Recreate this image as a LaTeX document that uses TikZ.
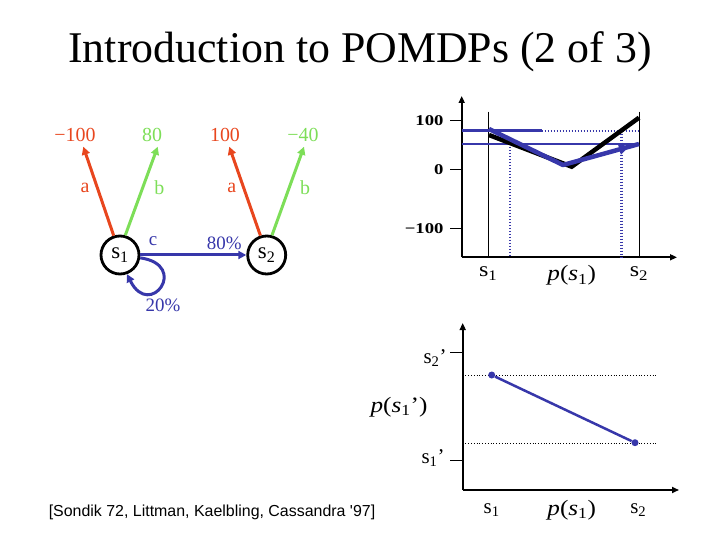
\documentclass[tikz,border=0pt]{standalone}
\usepackage{fontspec}
\setmainfont{Liberation Serif}
\newfontfamily\citefont{Liberation Sans}
\usetikzlibrary{arrows.meta}
\definecolor{actred}{RGB}{232,70,30}
\definecolor{actgreen}{RGB}{125,222,88}
\definecolor{actblue}{RGB}{55,55,170}

\begin{document}
\begin{tikzpicture}[x=1bp,y=-1bp,
  state/.style={draw, circle, line width=2.8bp, minimum size=38bp, inner sep=0pt, font=\fontsize{23}{25}\selectfont},
  act/.style={line width=3bp, -{Triangle[length=8bp,width=8bp]}},
  lbl/.style={font=\fontsize{20}{22}\selectfont},
  ax/.style={line width=1.6bp, -{Triangle[length=7bp,width=6bp]}},
  tickmark/.style={line width=1bp},
  chartnum/.style={font=\fontsize{15}{17}\selectfont\bfseries, anchor=east},
  axlbl/.style={font=\fontsize{21}{23}\selectfont, anchor=base},
  dotmark/.style={circle, fill=actblue, inner sep=0pt, minimum size=7bp}]
  \useasboundingbox (0,0) rectangle (720,540);

  \node[anchor=base, font=\fontsize{44}{48}\selectfont] (title) at (360,63) {Introduction to POMDPs (2 of 3)};

  % states and actions
  \node[state] (s1) at (120,255) {s\textsubscript{1}};
  \node[state] (s2) at (266.7,255) {s\textsubscript{2}};

  \node[lbl, text=actred] (r1a) at (75,135) {−100};
  \node[lbl, text=actgreen] (r1b) at (152,135) {80};
  \node[lbl, text=actred] (r2a) at (225,135) {100};
  \node[lbl, text=actgreen] (r2b) at (303,135) {−40};

  \coordinate (t1a) at (83.3,146.7);
  \coordinate (t1b) at (157.7,146.7);
  \coordinate (t2a) at (229.3,146.7);
  \coordinate (t2b) at (304,146.7);

  \draw[act, actred] (s1.108) -- (t1a);
  \draw[act, actgreen] (s1.75) -- (t1b);
  \draw[act, actred] (s2.108) -- (t2a);
  \draw[act, actgreen] (s2.75) -- (t2b);

  \node[lbl, text=actred] (a1) at (85,188) {a};
  \node[lbl, text=actgreen] (b1) at (159.3,188) {b};
  \node[lbl, text=actred] (a2) at (231.7,188) {a};
  \node[lbl, text=actgreen] (b2) at (305,188) {b};

  \draw[act, actblue] (s1) -- (s2);
  \draw[act, actblue] (s1.-8) .. controls (190,265) and (150,320) .. (s1.-70);
  \node[lbl, text=actblue, font=\fontsize{19}{21}\selectfont] (c) at (153,241) {c};
  \node[lbl, text=actblue, font=\fontsize{19}{21}\selectfont] (p80) at (224.3,243) {80\%};
  \node[lbl, text=actblue, font=\fontsize{19}{21}\selectfont] (p20) at (163,305) {20\%};

  % value function plot
  \coordinate (o1) at (461.7,257.3);
  \draw[ax] (o1) -- (461.7,96);
  \draw[ax] (o1) -- (677,257.3);
  \foreach \yy/\txt [count=\i] in {120.7/100, 169.3/0, 228.3/−100} {
    \draw[tickmark] (450,\yy) -- (461.7,\yy);
    \node[chartnum] (vlab\i) at (447,\yy) {\scalebox{1.25}[1]{\txt}};
  }
  \draw[line width=0.9bp] (488.3,111.7) -- (488.3,257.3);
  \draw[line width=0.9bp] (639,111.7) -- (639,257.3);

  \draw[actblue, line width=2.5bp] (461.7,130.7) -- (541.7,130.7);
  \draw[actblue, line width=1.8bp, dash pattern=on 1.5bp off 1.5bp] (541.7,130.7) -- (639,130.7);
  \draw[actblue, line width=2.5bp] (461.7,144) -- (639,144);
  \draw[actblue, line width=2.6bp, dash pattern=on 1.5bp off 1.5bp] (510,144) -- (510,257.3);
  \draw[actblue, line width=2.6bp, dash pattern=on 1.5bp off 1.5bp] (621.7,130.7) -- (621.7,257.3);

  \draw[line width=4.5bp] (489,135) -- (571.7,166.7) -- (639,117.7);
  \draw[actblue, line width=4.5bp, line join=round] (489,129) -- (563,165) -- (639,144);
  \draw[actblue, line width=1bp, -{Triangle[length=10bp,width=11bp]}] (600,154.7) -- (629,146.5);

  \node[axlbl] (xs1) at (488.3,277) {\scalebox{1.15}[1]{s\textsubscript{1}}};
  \node[axlbl, font=\fontsize{22}{24}\selectfont] (xp1) at (571.7,281) {\scalebox{1.15}[1]{\textit{p}(\textit{s}\textsubscript{1})}};
  \node[axlbl] (xs2) at (639,277) {\scalebox{1.15}[1]{s\textsubscript{2}}};

  % belief transition plot
  \coordinate (o2) at (462.7,490);
  \draw[ax] (o2) -- (462.7,323);
  \draw[ax] (o2) -- (679,490);
  \draw[tickmark] (450,352.7) -- (462.7,352.7);
  \draw[tickmark] (450,460.7) -- (462.7,460.7);
  \node[axlbl, anchor=base east] (ys2) at (450,363) {s\textsubscript{2}’};
  \node[axlbl, anchor=base east] (ys1) at (448,463) {s\textsubscript{1}’};
  \node[axlbl, font=\fontsize{22}{24}\selectfont] (yp1) at (399,412) {\scalebox{1.15}[1]{\textit{p}(\textit{s}\textsubscript{1}’)}};

  \draw[line width=0.8bp, dotted] (462.7,375) -- (656.7,375);
  \draw[line width=0.8bp, dotted] (462.7,443.3) -- (656.7,443.3);
  \node[dotmark] (bs1) at (491.7,375) {};
  \node[dotmark] (bs2) at (635,442.7) {};
  \draw[actblue, line width=2.5bp] (bs1) -- (bs2);

  \node[axlbl] (xs1b) at (491.7,513) {s\textsubscript{1}};
  \node[axlbl, font=\fontsize{22}{24}\selectfont] (xp1b) at (571.7,515) {\scalebox{1.15}[1]{\textit{p}(\textit{s}\textsubscript{1})}};
  \node[axlbl] (xs2b) at (638.3,513) {s\textsubscript{2}};

  \node[anchor=base, font=\citefont\fontsize{16}{18}\selectfont] (cite) at (212,516) {[Sondik 72, Littman, Kaelbling, Cassandra \textquotesingle 97]};
\end{tikzpicture}
\end{document}
